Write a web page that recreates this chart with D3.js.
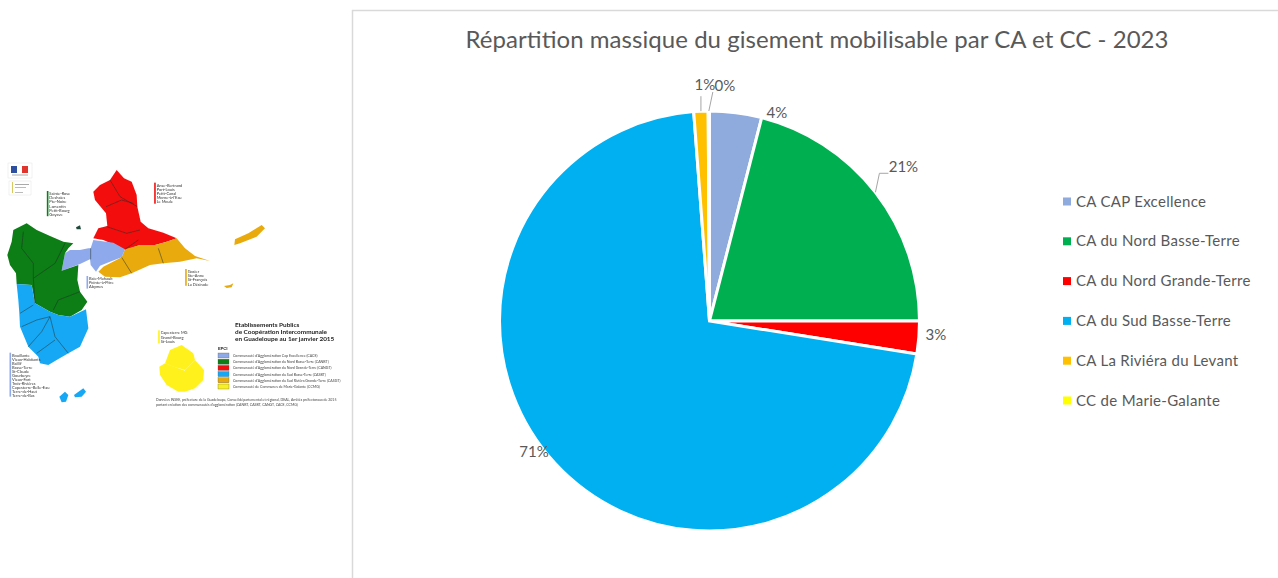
<!DOCTYPE html>
<html>
<head>
<meta charset="utf-8">
<script src="https://cdn.jsdelivr.net/npm/d3@7"></script>
<style>
  html, body { margin: 0; padding: 0; background: #fff; overflow: hidden; }
  svg { display: block; }
  text { font-family: Lato, "Open Sans", sans-serif; }
</style>
</head>
<body>
<svg id="chart" width="1278" height="578"></svg>
<script>
// DATA
var categories = ["CA CAP Excellence", "CA du Nord Basse-Terre", "CA du Nord Grande-Terre", "CA du Sud Basse-Terre", "CA La Riviéra du Levant", "CC de Marie-Galante"];
var shares = [4.0, 21.0, 2.51, 71.29, 1.1, 0.1];
var colors = ["#8faadc", "#00b050", "#ff0000", "#00b0f0", "#ffc000", "#ffff00"];
var chartTitle = "Répartition massique du gisement mobilisable par CA et CC - 2023";

// MAP INSET: shapes, in 3x crop units
var mapRed = [[350,60],[372,85],[395,95],[410,135],[412,170],[422,215],[445,235],[490,248],[530,265],[500,275],[465,285],[420,285],[375,300],[345,285],[310,270],[280,265],[295,235],[322,228],[318,190],[285,150],[280,125],[300,105],[330,90]];
var mapLightBlue = [[280,270],[340,278],[375,298],[365,322],[330,335],[300,347],[288,365],[272,345],[270,328],[240,342],[185,362],[195,310],[210,300],[240,300],[265,295],[272,295]];
var mapOrange = [[530,265],[555,295],[585,318],[630,333],[590,325],[540,335],[490,340],[450,345],[395,370],[360,382],[315,380],[295,365],[310,350],[365,322],[375,298],[420,285],[465,285],[500,275]];
var mapGreen = [[80,220],[110,240],[150,258],[190,275],[220,280],[205,295],[195,310],[185,362],[235,345],[232,390],[240,425],[262,455],[245,480],[210,500],[175,495],[150,485],[105,460],[95,405],[50,402],[48,370],[30,345],[22,315],[35,275],[40,240]];
var mapBlue = [[50,402],[95,405],[105,460],[150,485],[175,495],[210,500],[258,478],[265,535],[240,590],[205,610],[170,630],[145,645],[120,640],[115,620],[85,590],[60,530],[58,490],[55,450]];
var mapDesirade = [[703,285],[705,268],[745,250],[785,225],[795,235],[770,260],[720,280]];
var mapPetiteTerre = [[672,408],[690,405],[700,400],[695,412],[680,414]];
var mapSaintes1 = [[178,740],[195,725],[205,735],[198,755],[185,757]];
var mapSaintes2 = [[222,735],[250,715],[258,725],[245,740],[225,742]];
var mapIslet = [[228,232],[240,226],[243,238],[230,238]];
var mapMg1 = [[510,600],[545,585],[580,610],[585,630],[555,660],[520,650],[495,640]];
var mapMg2 = [[478,650],[495,640],[555,662],[555,725],[535,725],[500,705],[480,675]];
var mapMg3 = [[555,660],[585,630],[612,660],[610,690],[585,715],[555,725]];
var mapBorders = [
  [[70,245],[65,295],[100,340],[100,385]], [[100,385],[165,340],[195,280]], [[100,385],[105,460]], [[160,480],[175,450],[240,425]],
  [[60,490],[100,465]], [[65,530],[110,510],[150,500]], [[150,500],[165,560],[205,610]], [[85,590],[125,545],[150,500]], [[110,610],[165,570]],
  [[318,170],[365,150],[400,160]], [[330,90],[360,140],[412,170]], [[320,230],[380,250],[420,240]], [[375,298],[415,270]],
  [[395,370],[365,322]], [[490,340],[475,295]], [[272,295],[272,328]]
];
var communesGreen = ["Sainte-Rose", "Deshaies", "Pte-Noire", "Lamentin", "Petit-Bourg", "Goyave"];
var communesRed = ["Anse-Bertrand", "Port-Louis", "Petit-Canal", "Morne-à-l'Eau", "Le Moule"];
var communesLightBlue = ["Baie-Mahault", "Pointe-à-Pitre", "Abymes"];
var communesOrange = ["Gosier", "Ste-Anne", "St-François", "La Désirade"];
var communesYellow = ["Capesterre MG", "Grand-Bourg", "St-Louis"];
var communesBlue = ["Bouillante", "Vieux-Habitants", "Baillif", "Basse-Terre", "St-Claude", "Gourbeyre", "Vieux-Fort", "Trois-Rivières", "Capesterre-Belle-Eau", "Terre-de-Haut", "Terre-de-Bas"];
var mapTitle = ["Etablissements Publics", "de Coopération Intercommunale", "en Guadeloupe au 1er janvier 2015"];
var mapLegend = ["Communauté d'Agglomération Cap Excellence (CACE)", "Communauté d'Agglomération du Nord Basse-Terre (CANBT)", "Communauté d'Agglomération du Nord Grande-Terre (CANGT)", "Communauté d'Agglomération du Sud Basse-Terre (CASBT)", "Communauté d'Agglomération du Sud Riviéra Grande-Terre (CASGT)", "Communauté de Communes de Marie-Galante (CCMG)"];
var mapLegendColors = ["#8faae8", "#0a7d14", "#f01010", "#18a8f5", "#e8aa10", "#f8f020"];
var mapNote = ["Données INSEE, préfecture de la Guadeloupe, Conseil départemental et régional, DEAL, Arrêtés préfectoraux de 2015", "portant création des communautés d'agglomération (CANBT, CASBT, CANGT, CACE, CCMG)"];

var svg = d3.select("#chart");
var textColor = "#595959";

// CHART FRAME
svg.append("path")
  .attr("d", "M352.5,578V10.5H1278")
  .attr("fill", "none")
  .attr("stroke", "#d9d9d9")
  .attr("stroke-width", 1.5);

// TITLE
svg.append("text")
  .attr("x", 817)
  .attr("y", 48)
  .attr("text-anchor", "middle")
  .attr("font-size", "24px")
  .attr("fill", textColor)
  .attr("textLength", 703)
  .attr("lengthAdjust", "spacing")
  .text(chartTitle);

// PIE
var cx = 709.5, cy = 321, radius = 210;
var pie = d3.pie().sort(null);
var arc = d3.arc().innerRadius(0).outerRadius(radius);
var edge = d3.arc().innerRadius(radius).outerRadius(radius);
var arcs = pie(shares);

var pieGroup = svg.append("g").attr("transform", "translate(" + cx + "," + cy + ")");
pieGroup.selectAll("path")
  .data(arcs)
  .enter()
  .append("path")
  .attr("d", arc)
  .attr("fill", function (d, i) {return colors[i]})
  .attr("stroke", "#fff")
  .attr("stroke-width", 3);

// DATA LABELS, moved from the slice edge the way they sit in the picture
var labelDx = [41, 28, 17, -21, 4, 16];
var labelDy = [0, -25, -3, -11, -26, -25];
var labelFormat = d3.format(".0f");
pieGroup.selectAll(".label")
  .data(arcs)
  .enter()
  .append("text")
  .attr("class", "label")
  .attr("x", function (d, i) {return edge.centroid(d)[0] + labelDx[i]})
  .attr("y", function (d, i) {return edge.centroid(d)[1] + labelDy[i] + 5})
  .attr("text-anchor", "middle")
  .attr("font-size", "15px")
  .attr("fill", textColor)
  .text(function (d, i) {return labelFormat(shares[i]) + "%"});

// leader lines for the three labels that have one
[1, 4, 5].forEach(function (i) {
  var p = edge.centroid(arcs[i]);
  var pts = i === 1 ? [p, [p[0] + 4, p[1] - 19], [p[0] + 13, p[1] - 19]]
    : i === 4 ? [p, [p[0], p[1] - 15]]
    : [p, [p[0] + 4, p[1] - 19]];
  pieGroup.append("path")
    .attr("d", d3.line()(pts))
    .attr("fill", "none")
    .attr("stroke", "#a6a6a6")
    .attr("stroke-width", 1);
});

// LEGEND
var legendY = d3.scalePoint().domain(categories).range([201.5, 400.5]);
var legend = svg.selectAll(".legend")
  .data(categories)
  .enter()
  .append("g")
  .attr("class", "legend")
  .attr("transform", function (d) {return "translate(1063," + legendY(d) + ")"});
legend.append("rect")
  .attr("y", -4)
  .attr("width", 8)
  .attr("height", 8)
  .attr("fill", function (d, i) {return colors[i]});
legend.append("text")
  .attr("x", 13)
  .attr("y", 5)
  .attr("font-size", "15px")
  .attr("letter-spacing", "0.3px")
  .attr("fill", textColor)
  .text(function (d) {return d});

// MAP INSET
var blur = svg.append("defs").append("filter").attr("id", "soft");
blur.append("feGaussianBlur").attr("stdDeviation", 0.5);

var mapX = d3.scaleLinear().domain([0, 1050]).range([0, 350]);
var mapY = d3.scaleLinear().domain([0, 810]).range([150, 420]);
var mapLine = d3.line().x(function (d) {return mapX(d[0])}).y(function (d) {return mapY(d[1])});
var map = svg.append("g").attr("filter", "url(#soft)");

function drawShape(points, fill) {
  map.append("path").attr("d", mapLine(points) + "Z").attr("fill", fill);
}
drawShape(mapRed, "#f40c0c");
drawShape(mapOrange, "#e8aa10");
drawShape(mapLightBlue, "#8faaec");
drawShape(mapGreen, "#0a7d14");
drawShape(mapBlue, "#18a8f5");
drawShape(mapDesirade, "#e8aa10");
drawShape(mapPetiteTerre, "#e8aa10");
drawShape(mapSaintes1, "#18a8f5");
drawShape(mapSaintes2, "#18a8f5");
drawShape(mapIslet, "#1f4a3a");
drawShape(mapMg1, "#fff21c");
drawShape(mapMg2, "#fff21c");
drawShape(mapMg3, "#fff21c");
mapBorders.forEach(function (b) {
  map.append("path")
    .attr("d", mapLine(b))
    .attr("fill", "none")
    .attr("stroke", "#20302a")
    .attr("stroke-width", 0.5);
});

// commune lists with their colored side bar
function drawList(names, x, y, color, step) {
  map.append("rect")
    .attr("x", mapX(x) - 2.5)
    .attr("y", mapY(y) - 3)
    .attr("width", 1.6)
    .attr("height", names.length * step)
    .attr("fill", color);
  map.selectAll(null)
    .data(names)
    .enter()
    .append("text")
    .attr("x", mapX(x))
    .attr("y", function (d, i) {return mapY(y) + i * step + 1})
    .attr("font-size", "4px")
    .attr("fill", "#333")
    .text(function (d) {return d});
}
drawList(communesGreen, 148, 132, "#0a7d14", 4.2);
drawList(communesRed, 470, 107, "#f40c0c", 4.2);
drawList(communesLightBlue, 267, 387, "#8faaec", 4.2);
drawList(communesOrange, 563, 366, "#e8aa10", 4.2);
drawList(communesYellow, 482, 550, "#fff21c", 4.4);
drawList(communesBlue, 36, 617, "#8faaec", 4.0);

// prefecture logos
map.append("rect").attr("x", 8).attr("y", 163).attr("width", 24).attr("height", 15).attr("fill", "#fff").attr("stroke", "#e4e4e4").attr("stroke-width", 0.5);
map.append("rect").attr("x", 11).attr("y", 166).attr("width", 6).attr("height", 7).attr("fill", "#2f4f9f");
map.append("rect").attr("x", 22).attr("y", 166).attr("width", 6).attr("height", 7).attr("fill", "#e0352f");
map.append("rect").attr("x", 12).attr("y", 174.5).attr("width", 16).attr("height", 1).attr("fill", "#aaa");
map.append("rect").attr("x", 9).attr("y", 181).attr("width", 22).attr("height", 14).attr("fill", "#fff").attr("stroke", "#e4e4e4").attr("stroke-width", 0.5);
map.append("rect").attr("x", 12).attr("y", 182).attr("width", 1).attr("height", 11).attr("fill", "#d8c860");
map.append("rect").attr("x", 15).attr("y", 184).attr("width", 14).attr("height", 1).attr("fill", "#aaa");
map.append("rect").attr("x", 15).attr("y", 187).attr("width", 11).attr("height", 1).attr("fill", "#bbb");
map.append("rect").attr("x", 15).attr("y", 192).attr("width", 8).attr("height", 1).attr("fill", "#bbb");

// map title, legend and note
map.selectAll(".mapTitle")
  .data(mapTitle)
  .enter()
  .append("text")
  .attr("x", 235)
  .attr("y", function (d, i) {return 327 + i * 7})
  .attr("font-size", "6.4px")
  .attr("font-weight", "bold")
  .attr("fill", "#222")
  .text(function (d) {return d});
map.append("text").attr("x", 218).attr("y", 350).attr("font-size", "4.5px").attr("font-weight", "bold").attr("fill", "#222").text("EPCI");

var mapLegendY = d3.scalePoint().domain(mapLegend).range([353, 384]);
mapLegend.forEach(function (name, i) {
  map.append("rect")
    .attr("x", 218).attr("y", mapLegendY(name))
    .attr("width", 11).attr("height", 5)
    .attr("fill", mapLegendColors[i])
    .attr("stroke", "#555").attr("stroke-width", 0.3);
  map.append("text")
    .attr("x", 233).attr("y", mapLegendY(name) + 4)
    .attr("font-size", "3.6px")
    .attr("fill", "#444")
    .text(name);
});
map.selectAll(".mapNote")
  .data(mapNote)
  .enter()
  .append("text")
  .attr("x", 156)
  .attr("y", function (d, i) {return 401 + i * 4.5})
  .attr("font-size", "3.5px")
  .attr("fill", "#444")
  .text(function (d) {return d});
</script>
</body>
</html>
